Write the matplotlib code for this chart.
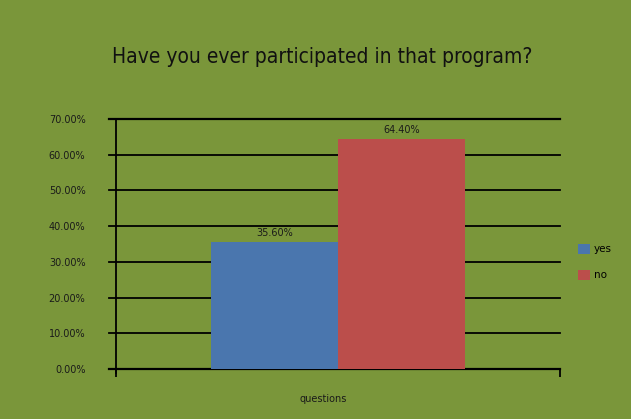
import matplotlib
matplotlib.use("Agg")
from matplotlib import pyplot as plt
from matplotlib.patches import Patch

# chart data
categories = ["questions"]
series_names = ["yes", "no"]
series_values = [35.60, 64.40]
yticks = [0, 10, 20, 30, 40, 50, 60, 70]

bg = "#7a963a"
colors = ["#4a76ae", "#bb4e4b"]

fig = plt.figure(figsize=(6.31, 4.19), dpi=100, facecolor=bg)
ax = fig.add_axes([116 / 631, 1 - 369 / 419, 444 / 631, 250 / 419])
ax.set_facecolor(bg)

offsets = [-0.5, 0.5]
for name, val, off, col in zip(series_names, series_values, offsets, colors):
  ax.bar(off, val, width=1.0, color=col, label=name, zorder=3)
  ax.text(off, val + 1.0, "%.2f%%" % val, ha="center", va="bottom", fontsize=7, color="#1a1a1a", zorder=4)

ax.set_xlim(-1.75, 1.75)
ax.set_ylim(0, 70)
ax.set_yticks(yticks)
ax.set_yticklabels(["%.2f%%" % t for t in yticks], fontsize=7, color="#1a1a1a")
for t in yticks:
  ax.axhline(t, xmin=-0.016, xmax=1.0, color="black", lw=1.6 if t in (0, 70) else 1.3, zorder=2, clip_on=False)

ax.set_xticks([-1.75, 1.75])
ax.set_xticklabels(["", ""])
ax.tick_params(axis="x", length=6, width=1.3, direction="out", color="black")
ax.tick_params(axis="y", length=0, pad=22)

for s in ["top", "right", "bottom"]:
  ax.spines[s].set_visible(False)
ax.spines["left"].set_linewidth(1.3)
ax.spines["left"].set_bounds(-1, 70)
ax.spines["left"].set_zorder(5)

# category label sits a bit left of centre in the original
fig.text(323 / 631, 1 - 402 / 419, categories[0], ha="center", va="baseline", fontsize=7, color="#1a1a1a")

fig.text(322 / 631, 1 - 63 / 419, "Have you ever participated in that program?", ha="center", va="baseline",
         fontsize=15, color="#111111", fontstretch="condensed")

handles = [Patch(facecolor=c, edgecolor="none") for c in colors]
fig.legend(handles, series_names, loc="center left", bbox_to_anchor=(569 / 631, 1 - 262 / 419), frameon=False,
           fontsize=7.5, handlelength=1.1, handleheight=1.1, handletextpad=0.4, labelspacing=1.5)

fig.savefig("out.png", dpi=100, facecolor=bg)
